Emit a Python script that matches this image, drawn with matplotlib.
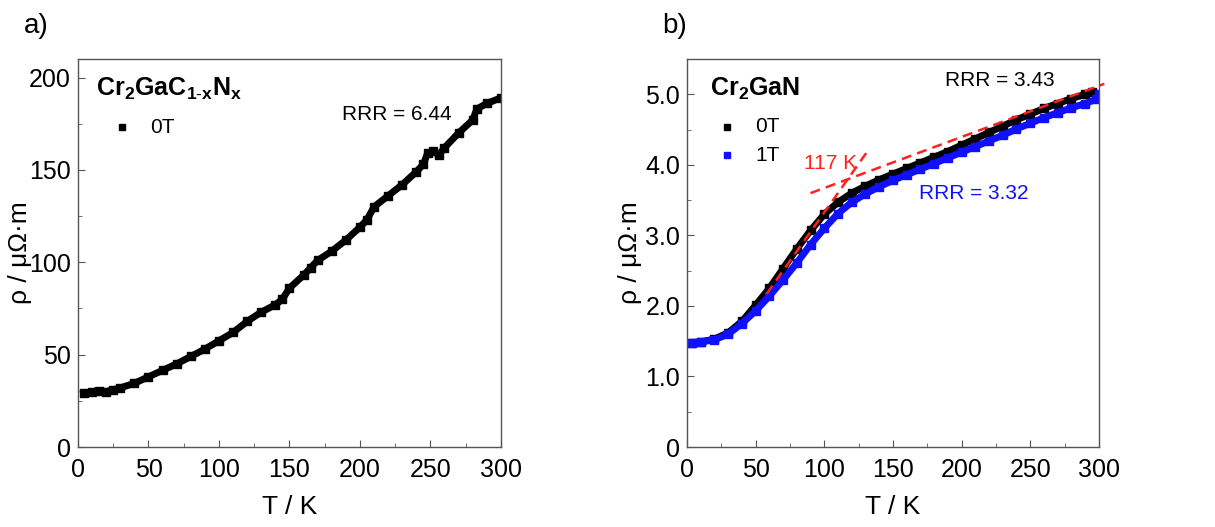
import matplotlib
matplotlib.use("Agg")
import matplotlib.pyplot as plt
from matplotlib.ticker import MultipleLocator

plt.rcParams['font.family'] = ['Liberation Sans', 'DejaVu Sans']
plt.rcParams['mathtext.fontset'] = 'custom'
plt.rcParams['mathtext.rm'] = 'Liberation Sans'
plt.rcParams['mathtext.bf'] = 'Liberation Sans:bold'

# panel a: Cr2GaC1-xNx, 0T
T_a = [4, 10, 15, 20, 25, 30, 40, 50, 60, 70, 80, 90, 100, 110, 120, 130, 140, 145,
       150, 160, 165, 170, 180, 190, 200, 205, 210, 220, 230, 240, 245, 248, 252,
       256, 260, 270, 280, 283, 290, 300]
rho_a = [29, 30, 30.5, 30, 31, 32, 34.5, 38, 41.5, 45, 49, 53, 57.5, 62, 68, 73, 77, 80,
         86, 93, 97, 101, 106, 112, 119, 123, 130, 136, 142, 149, 153, 159, 160,
         158, 162, 170, 177, 183, 186, 189]

# panel b: Cr2GaN, 0T and 1T
T_b0 = [4, 10, 20, 30, 40, 50, 60, 70, 80, 90, 100, 110, 120, 130, 140, 150, 160, 170,
        180, 190, 200, 210, 220, 230, 240, 250, 260, 270, 280, 290, 295]
rho_b0 = [1.48, 1.49, 1.53, 1.62, 1.78, 2.01, 2.25, 2.53, 2.81, 3.07, 3.30, 3.47, 3.60,
          3.70, 3.79, 3.87, 3.95, 4.03, 4.11, 4.19, 4.28, 4.37, 4.46, 4.55, 4.64, 4.72,
          4.80, 4.87, 4.94, 5.00, 5.03]
T_b1 = [4, 10, 20, 30, 40, 50, 60, 70, 80, 90, 100, 110, 120, 130, 140, 150, 160, 170,
        180, 190, 200, 210, 220, 230, 240, 250, 260, 270, 280, 290, 298, 300]
rho_b1 = [1.48, 1.49, 1.52, 1.60, 1.75, 1.93, 2.14, 2.37, 2.61, 2.87, 3.10, 3.31, 3.47,
          3.59, 3.69, 3.78, 3.86, 3.94, 4.02, 4.10, 4.18, 4.26, 4.34, 4.42, 4.51, 4.59,
          4.67, 4.74, 4.81, 4.87, 4.93, 5.00]

# linear fits (red dashed) crossing at 117 K
fit1_T = [58, 131]
fit1_rho = [2.17, 4.18]
fit2_T = [90, 304]
fit2_rho = [3.60, 5.15]

fig = plt.figure(figsize=(12.15, 5.27), dpi=100)
ax1 = fig.add_axes([0.0642, 0.1518, 0.348, 0.736])
ax2 = fig.add_axes([0.5654, 0.1518, 0.339, 0.736])

spine_col = '#555555'
blue = '#1010ff'
red = '#ff2020'
for ax in (ax1, ax2):
    for s in ax.spines.values():
        s.set_color(spine_col)
        s.set_linewidth(1.0)
    ax.tick_params(which='both', direction='in', top=False, right=False,
                   color=spine_col, labelsize=18, pad=5)
    ax.tick_params(which='major', length=5)
    ax.tick_params(which='minor', length=3)
    ax.tick_params(axis='x', pad=8)
    ax.set_xlim(0, 300)
    ax.xaxis.set_major_locator(MultipleLocator(50))
    ax.xaxis.set_minor_locator(MultipleLocator(25))
    ax.set_xlabel('T / K', fontsize=19)
    ax.set_ylabel('ρ / μΩ·m', fontsize=19)
    ax.xaxis.set_label_coords(0.5, -0.125)

ax1.yaxis.set_label_coords(-0.108, 0.5)
ax2.yaxis.set_label_coords(-0.11, 0.5)

# panel a
ax1.plot(T_a, rho_a, color='black', lw=5, marker='s', ms=5.5)
ax1.set_ylim(0, 210)
ax1.yaxis.set_major_locator(MultipleLocator(50))
ax1.yaxis.set_minor_locator(MultipleLocator(25))
ax1.text(13, 194, r'$\mathbf{Cr_2GaC_{1\text{-}x}N_x}$', fontsize=18, va='center')
ax1.plot([31], [173], 's', color='black', ms=5)
ax1.text(51, 173, '0T', fontsize=15, va='center')
ax1.text(187, 180, 'RRR = 6.44', fontsize=15, va='center')
fig.text(0.02, 0.95, 'a)', fontsize=20, va='center')

# panel b
ax2.plot(T_b0, rho_b0, color='black', lw=5, marker='s', ms=5.5)
ax2.plot(T_b1, rho_b1, color=blue, lw=5, marker='s', ms=5.5)
ax2.plot(fit1_T, fit1_rho, color=red, lw=1.8, ls=(0, (4, 2.5)), clip_on=False)
ax2.plot(fit2_T, fit2_rho, color=red, lw=1.8, ls=(0, (4, 2.5)), clip_on=False)
ax2.set_ylim(0, 5.5)
ax2.yaxis.set_major_locator(MultipleLocator(1.0))
ax2.yaxis.set_minor_locator(MultipleLocator(0.5))
ax2.yaxis.set_major_formatter(lambda v, p: '0' if v == 0 else f'{v:.1f}')
ax2.text(17, 5.08, r'$\mathbf{Cr_2GaN}$', fontsize=18, va='center')
ax2.plot([29], [4.54], 's', color='black', ms=5)
ax2.text(50, 4.54, '0T', fontsize=15, va='center')
ax2.plot([29], [4.14], 's', color=blue, ms=5)
ax2.text(50, 4.14, '1T', fontsize=15, va='center')
ax2.text(85, 4.02, '117 K', fontsize=15, va='center', color=red)
ax2.text(188, 5.2, 'RRR = 3.43', fontsize=15, va='center')
ax2.text(169, 3.6, 'RRR = 3.32', fontsize=15, va='center', color=blue)
fig.text(0.545, 0.95, 'b)', fontsize=20, va='center')

fig.savefig('out.png', dpi=100)
